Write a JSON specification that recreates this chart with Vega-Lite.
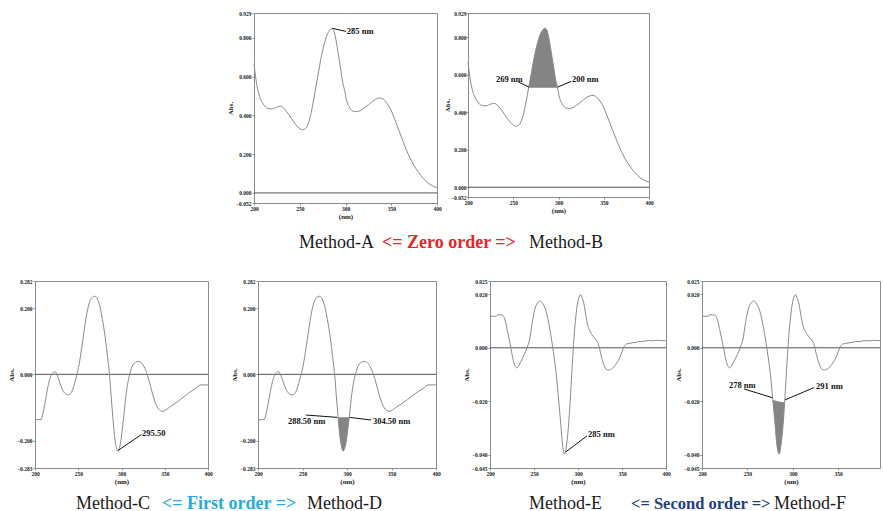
{
  "$schema": "https://vega.github.io/schema/vega-lite/v6.json",
  "padding": {"left": 6, "top": 10, "right": 0, "bottom": 0},
  "background": "white",
  "spacing": 0,
  "config": {
    "view": {"stroke": null},
    "font": "Liberation Serif",
    "axis": {"labelFont": "Liberation Serif", "labelFontWeight": "bold", "labelFontSize": 5.5, "labelColor": "#222", "titleFont": "Liberation Serif", "titleFontWeight": "bold", "titleFontSize": 7, "titleColor": "#222", "domain": false, "grid": false, "ticks": true, "tickSize": 2, "tickColor": "#777", "tickWidth": 0.8, "labelPadding": 1, "labelOverlap": false, "labelFlush": false, "tickCount": 20},
    "axisX": {"titlePadding": 1},
    "axisY": {"titlePadding": 2}
  },
  "datasets": {
    "zero": [
      {"nm": 200, "v": 0.667}, {"nm": 203, "v": 0.56}, {"nm": 206, "v": 0.5}, {"nm": 210, "v": 0.46}, {"nm": 215, "v": 0.437}, {"nm": 220, "v": 0.434}, {"nm": 225, "v": 0.443}, {"nm": 229, "v": 0.448}, {"nm": 233, "v": 0.435}, {"nm": 238, "v": 0.405}, {"nm": 243, "v": 0.37}, {"nm": 248, "v": 0.34}, {"nm": 253, "v": 0.326}, {"nm": 257, "v": 0.336}, {"nm": 261, "v": 0.385}, {"nm": 264, "v": 0.45}, {"nm": 267, "v": 0.53}, {"nm": 270, "v": 0.61}, {"nm": 273, "v": 0.69}, {"nm": 276, "v": 0.755}, {"nm": 279, "v": 0.805}, {"nm": 282, "v": 0.835}, {"nm": 285, "v": 0.848}, {"nm": 287, "v": 0.84}, {"nm": 289, "v": 0.805}, {"nm": 291, "v": 0.75}, {"nm": 293, "v": 0.69}, {"nm": 295, "v": 0.63}, {"nm": 297, "v": 0.57}, {"nm": 299, "v": 0.53}, {"nm": 301, "v": 0.48}, {"nm": 304, "v": 0.445}, {"nm": 308, "v": 0.422}, {"nm": 312, "v": 0.42}, {"nm": 316, "v": 0.425}, {"nm": 320, "v": 0.437}, {"nm": 325, "v": 0.455}, {"nm": 330, "v": 0.475}, {"nm": 335, "v": 0.488}, {"nm": 338, "v": 0.49}, {"nm": 341, "v": 0.485}, {"nm": 345, "v": 0.465}, {"nm": 349, "v": 0.435}, {"nm": 353, "v": 0.39}, {"nm": 357, "v": 0.34}, {"nm": 361, "v": 0.29}, {"nm": 365, "v": 0.24}, {"nm": 370, "v": 0.185}, {"nm": 375, "v": 0.14}, {"nm": 380, "v": 0.105}, {"nm": 385, "v": 0.075}, {"nm": 390, "v": 0.052}, {"nm": 395, "v": 0.037}, {"nm": 400, "v": 0.027}
    ],
    "shadeB": [
      {"nm": 267, "v": 0.53, "base": 0.53}, {"nm": 270, "v": 0.61, "base": 0.53}, {"nm": 273, "v": 0.69, "base": 0.53}, {"nm": 276, "v": 0.755, "base": 0.53}, {"nm": 279, "v": 0.805, "base": 0.53}, {"nm": 282, "v": 0.835, "base": 0.53}, {"nm": 285, "v": 0.848, "base": 0.53}, {"nm": 287, "v": 0.84, "base": 0.53}, {"nm": 289, "v": 0.805, "base": 0.53}, {"nm": 291, "v": 0.75, "base": 0.53}, {"nm": 293, "v": 0.69, "base": 0.53}, {"nm": 295, "v": 0.63, "base": 0.53}, {"nm": 297, "v": 0.57, "base": 0.53}, {"nm": 299, "v": 0.53, "base": 0.53}
    ],
    "d1": [
      {"nm": 200, "v": -0.137}, {"nm": 207, "v": -0.137}, {"nm": 209, "v": -0.12}, {"nm": 211, "v": -0.095}, {"nm": 214, "v": -0.05}, {"nm": 217, "v": -0.015}, {"nm": 220, "v": 0.003}, {"nm": 223, "v": 0.008}, {"nm": 226, "v": -0.005}, {"nm": 229, "v": -0.028}, {"nm": 232, "v": -0.048}, {"nm": 236, "v": -0.06}, {"nm": 239, "v": -0.062}, {"nm": 242, "v": -0.055}, {"nm": 245, "v": -0.035}, {"nm": 248, "v": -0.005}, {"nm": 251, "v": 0.03}, {"nm": 254, "v": 0.08}, {"nm": 257, "v": 0.135}, {"nm": 260, "v": 0.185}, {"nm": 263, "v": 0.218}, {"nm": 266, "v": 0.232}, {"nm": 269, "v": 0.236}, {"nm": 272, "v": 0.228}, {"nm": 275, "v": 0.205}, {"nm": 278, "v": 0.165}, {"nm": 281, "v": 0.115}, {"nm": 284, "v": 0.05}, {"nm": 286, "v": 0.003}, {"nm": 288, "v": -0.065}, {"nm": 290, "v": -0.13}, {"nm": 292, "v": -0.188}, {"nm": 294, "v": -0.22}, {"nm": 295.5, "v": -0.232}, {"nm": 297, "v": -0.226}, {"nm": 299, "v": -0.205}, {"nm": 301, "v": -0.165}, {"nm": 302.5, "v": -0.13}, {"nm": 305, "v": -0.068}, {"nm": 307, "v": -0.03}, {"nm": 309, "v": -0.005}, {"nm": 312, "v": 0.022}, {"nm": 316, "v": 0.036}, {"nm": 320, "v": 0.039}, {"nm": 324, "v": 0.032}, {"nm": 328, "v": 0.012}, {"nm": 332, "v": -0.02}, {"nm": 336, "v": -0.06}, {"nm": 340, "v": -0.092}, {"nm": 344, "v": -0.108}, {"nm": 347, "v": -0.112}, {"nm": 351, "v": -0.108}, {"nm": 356, "v": -0.098}, {"nm": 362, "v": -0.088}, {"nm": 368, "v": -0.076}, {"nm": 374, "v": -0.064}, {"nm": 380, "v": -0.052}, {"nm": 386, "v": -0.042}, {"nm": 391, "v": -0.032}, {"nm": 400, "v": -0.032}
    ],
    "shadeD": [
      {"nm": 290, "v": -0.13, "base": -0.13}, {"nm": 292, "v": -0.188, "base": -0.13}, {"nm": 294, "v": -0.22, "base": -0.13}, {"nm": 295.5, "v": -0.232, "base": -0.13}, {"nm": 297, "v": -0.226, "base": -0.13}, {"nm": 299, "v": -0.205, "base": -0.13}, {"nm": 301, "v": -0.165, "base": -0.13}, {"nm": 302.5, "v": -0.13, "base": -0.13}
    ],
    "d2": [
      {"nm": 200, "v": 0.0118}, {"nm": 207, "v": 0.0118}, {"nm": 209, "v": 0.0124}, {"nm": 214, "v": 0.0122}, {"nm": 217, "v": 0.0105}, {"nm": 220, "v": 0.006}, {"nm": 223, "v": 0.0012}, {"nm": 226, "v": -0.004}, {"nm": 228.5, "v": -0.0068}, {"nm": 230.5, "v": -0.0075}, {"nm": 233, "v": -0.0065}, {"nm": 236, "v": -0.0045}, {"nm": 239, "v": -0.0025}, {"nm": 242, "v": 0.0}, {"nm": 245, "v": 0.003}, {"nm": 248, "v": 0.0095}, {"nm": 251, "v": 0.0145}, {"nm": 254, "v": 0.0168}, {"nm": 257, "v": 0.0175}, {"nm": 260, "v": 0.0165}, {"nm": 263, "v": 0.0145}, {"nm": 266, "v": 0.0105}, {"nm": 269, "v": 0.005}, {"nm": 272, "v": -0.0015}, {"nm": 275, "v": -0.009}, {"nm": 278, "v": -0.0195}, {"nm": 280.5, "v": -0.029}, {"nm": 282.5, "v": -0.0365}, {"nm": 284, "v": -0.0392}, {"nm": 285, "v": -0.0398}, {"nm": 286.5, "v": -0.0375}, {"nm": 288.5, "v": -0.032}, {"nm": 291, "v": -0.0205}, {"nm": 293, "v": -0.009}, {"nm": 295.5, "v": 0.0042}, {"nm": 298, "v": 0.013}, {"nm": 300.5, "v": 0.0182}, {"nm": 303, "v": 0.0198}, {"nm": 305, "v": 0.0185}, {"nm": 307, "v": 0.016}, {"nm": 309, "v": 0.012}, {"nm": 311, "v": 0.0085}, {"nm": 314, "v": 0.006}, {"nm": 318, "v": 0.004}, {"nm": 321, "v": 0.0028}, {"nm": 323.5, "v": 0.001}, {"nm": 326, "v": -0.0025}, {"nm": 329, "v": -0.006}, {"nm": 332, "v": -0.008}, {"nm": 335, "v": -0.0083}, {"nm": 339, "v": -0.0077}, {"nm": 343, "v": -0.0062}, {"nm": 347, "v": -0.004}, {"nm": 350, "v": -0.0015}, {"nm": 352.5, "v": 0.0005}, {"nm": 355, "v": 0.0014}, {"nm": 358, "v": 0.0016}, {"nm": 362, "v": 0.0019}, {"nm": 366, "v": 0.002}, {"nm": 369, "v": 0.0024}, {"nm": 373, "v": 0.0023}, {"nm": 377, "v": 0.0026}, {"nm": 381, "v": 0.0027}, {"nm": 385, "v": 0.0026}, {"nm": 389, "v": 0.0028}, {"nm": 394, "v": 0.0027}, {"nm": 400, "v": 0.0026}
    ],
    "shadeF": [
      {"nm": 278, "v": -0.0195, "base": -0.0195}, {"nm": 280.5, "v": -0.029, "base": -0.0197}, {"nm": 282.5, "v": -0.0365, "base": -0.0199}, {"nm": 284, "v": -0.0392, "base": -0.02}, {"nm": 285, "v": -0.0398, "base": -0.0201}, {"nm": 286.5, "v": -0.0375, "base": -0.0202}, {"nm": 288.5, "v": -0.032, "base": -0.0203}, {"nm": 291, "v": -0.0205, "base": -0.0205}
    ],
    "zeroline": [{"v": 0}],
    "blank": [{}],
    "ann": [
      {"panel": "A", "kind": "text", "ax": 301.5, "ay": 0.836, "label": "285 nm"},
      {"panel": "A", "kind": "arrow", "ax": 300.5, "ay": 0.834, "bx": 285.5, "by": 0.85},
      {"panel": "B", "kind": "text", "ax": 230.9, "ay": 0.575, "label": "269 nm"},
      {"panel": "B", "kind": "arrow", "ax": 255.5, "ay": 0.562, "bx": 267.3, "by": 0.534},
      {"panel": "B", "kind": "text", "ax": 314.9, "ay": 0.575, "label": "200 nm"},
      {"panel": "B", "kind": "arrow", "ax": 313.8, "ay": 0.564, "bx": 299.2, "by": 0.534},
      {"panel": "C", "kind": "text", "ax": 323.7, "ay": -0.177, "label": "295.50"},
      {"panel": "C", "kind": "arrow", "ax": 323, "ay": -0.182, "bx": 296, "by": -0.23},
      {"panel": "D", "kind": "text", "ax": 233.7, "ay": -0.14, "label": "288.50 nm"},
      {"panel": "D", "kind": "arrow", "ax": 253.9, "ay": -0.123, "bx": 289, "by": -0.13},
      {"panel": "D", "kind": "text", "ax": 329.2, "ay": -0.14, "label": "304.50 nm"},
      {"panel": "D", "kind": "arrow", "ax": 327, "ay": -0.138, "bx": 303, "by": -0.13},
      {"panel": "E", "kind": "text", "ax": 311.4, "ay": -0.0323, "label": "285 nm"},
      {"panel": "E", "kind": "arrow", "ax": 310.2, "ay": -0.033, "bx": 286, "by": -0.039},
      {"panel": "F", "kind": "text", "ax": 229.7, "ay": -0.0139, "label": "278 nm"},
      {"panel": "F", "kind": "arrow", "ax": 246.3, "ay": -0.0154, "bx": 277.5, "by": -0.0187},
      {"panel": "F", "kind": "text", "ax": 325.6, "ay": -0.0143, "label": "291 nm"},
      {"panel": "F", "kind": "arrow", "ax": 323.3, "ay": -0.0149, "bx": 291.5, "by": -0.0195}
    ],
    "cap1": [
      {"t": "Method-A", "pos": 264, "kind": "method", "order": "Zero"},
      {"t": "<= Zero order =>", "pos": 347, "kind": "order", "order": "Zero"},
      {"t": "Method-B", "pos": 494, "kind": "method", "order": "Zero"}
    ],
    "cap2": [
      {"t": "Method-C", "pos": 41, "kind": "method", "order": "First"},
      {"t": "<= First order =>", "pos": 127, "kind": "order", "order": "First"},
      {"t": "Method-D", "pos": 272, "kind": "method", "order": "First"},
      {"t": "Method-E", "pos": 494, "kind": "method", "order": "Second"},
      {"t": "<= Second order =>", "pos": 596, "kind": "order2", "order": "Second"},
      {"t": "Method-F", "pos": 739, "kind": "method", "order": "Second"}
    ]
  },
  "vconcat": [
    {
      "spacing": 0,
      "hconcat": [
        {"width": 190, "height": 1, "data": {"name": "blank"}, "mark": {"type": "rect", "opacity": 0}, "encoding": {}},
        {
          "width": 183, "height": 190,
          "view": {"stroke": "#8c8c8c", "strokeWidth": 1},
          "layer": [
            {"data": {"name": "zeroline"}, "mark": {"type": "rule", "color": "#555", "strokeWidth": 1},
             "encoding": {"y": {"field": "v", "type": "quantitative", "scale": {"domain": [-0.052, 0.929], "nice": false, "zero": false}}}},
            {"data": {"name": "zero"}, "mark": {"type": "line", "color": "#8a8a8a", "strokeWidth": 1, "interpolate": "monotone"},
             "encoding": {
               "x": {"field": "nm", "type": "quantitative", "scale": {"domain": [200, 400], "nice": false, "zero": false}, "axis": {"values": [200, 250, 300, 350, 400], "tickCount": 20, "title": "(nm)", "labelOverlap": false}},
               "y": {"field": "v", "type": "quantitative", "scale": {"domain": [-0.052, 0.929], "nice": false, "zero": false}, "axis": {"values": [-0.052, 0, 0.2, 0.4, 0.6, 0.8, 0.929], "tickCount": 20, "format": ".3f", "title": "Abs.", "labelOverlap": false}}}},
            {"data": {"name": "ann"}, "transform": [{"filter": "datum.panel == 'A' && datum.kind == 'arrow'"}], "mark": {"type": "rule", "color": "#111", "strokeWidth": 1},
             "encoding": {"x": {"field": "ax", "type": "quantitative", "scale": {"domain": [200, 400], "nice": false, "zero": false}}, "y": {"field": "ay", "type": "quantitative", "scale": {"domain": [-0.052, 0.929], "nice": false, "zero": false}}, "x2": {"field": "bx"}, "y2": {"field": "by"}}},
            {"data": {"name": "ann"}, "transform": [{"filter": "datum.panel == 'A' && datum.kind == 'text'"}], "mark": {"type": "text", "align": "left", "baseline": "middle", "font": "Liberation Serif", "fontWeight": "bold", "fontSize": 8.5, "color": "#111"},
             "encoding": {"x": {"field": "ax", "type": "quantitative", "scale": {"domain": [200, 400], "nice": false, "zero": false}}, "y": {"field": "ay", "type": "quantitative", "scale": {"domain": [-0.052, 0.929], "nice": false, "zero": false}}, "text": {"field": "label"}}}
          ]
        },
        {
          "width": 181, "height": 184,
          "view": {"stroke": "#8c8c8c", "strokeWidth": 1},
          "layer": [
            {"data": {"name": "zeroline"}, "mark": {"type": "rule", "color": "#555", "strokeWidth": 1},
             "encoding": {"y": {"field": "v", "type": "quantitative", "scale": {"domain": [-0.052, 0.929], "nice": false, "zero": false}}}},
            {"data": {"name": "shadeB"}, "mark": {"type": "area", "color": "#777", "opacity": 0.9, "interpolate": "monotone"},
             "encoding": {"x": {"field": "nm", "type": "quantitative", "scale": {"domain": [200, 400], "nice": false, "zero": false}}, "y": {"field": "v", "type": "quantitative", "scale": {"domain": [-0.052, 0.929], "nice": false, "zero": false}}, "y2": {"field": "base"}}},
            {"data": {"name": "zero"}, "mark": {"type": "line", "color": "#8a8a8a", "strokeWidth": 1, "interpolate": "monotone"},
             "encoding": {
               "x": {"field": "nm", "type": "quantitative", "scale": {"domain": [200, 400], "nice": false, "zero": false}, "axis": {"values": [200, 250, 300, 350, 400], "tickCount": 20, "title": "(nm)", "labelOverlap": false}},
               "y": {"field": "v", "type": "quantitative", "scale": {"domain": [-0.052, 0.929], "nice": false, "zero": false}, "axis": {"values": [-0.052, 0, 0.2, 0.4, 0.6, 0.8, 0.929], "tickCount": 20, "format": ".3f", "title": "Abs.", "labelOverlap": false, "titlePadding": 0, "labelPadding": 0}}}},
            {"data": {"name": "ann"}, "transform": [{"filter": "datum.panel == 'B' && datum.kind == 'arrow'"}], "mark": {"type": "rule", "color": "#111", "strokeWidth": 1},
             "encoding": {"x": {"field": "ax", "type": "quantitative", "scale": {"domain": [200, 400], "nice": false, "zero": false}}, "y": {"field": "ay", "type": "quantitative", "scale": {"domain": [-0.052, 0.929], "nice": false, "zero": false}}, "x2": {"field": "bx"}, "y2": {"field": "by"}}},
            {"data": {"name": "ann"}, "transform": [{"filter": "datum.panel == 'B' && datum.kind == 'text'"}], "mark": {"type": "text", "align": "left", "baseline": "middle", "font": "Liberation Serif", "fontWeight": "bold", "fontSize": 8.5, "color": "#111"},
             "encoding": {"x": {"field": "ax", "type": "quantitative", "scale": {"domain": [200, 400], "nice": false, "zero": false}}, "y": {"field": "ay", "type": "quantitative", "scale": {"domain": [-0.052, 0.929], "nice": false, "zero": false}}, "text": {"field": "label"}}}
          ]
        }
      ]
    },
    {
      "width": 840, "height": 58,
      "data": {"name": "cap1"},
      "layer": [
        {"data": {"name": "blank"}, "mark": {"type": "rect", "opacity": 0}, "encoding": {}},
        {"transform": [{"filter": "datum.kind == 'method'"}], "mark": {"type": "text", "align": "left", "baseline": "middle", "dy": -6, "font": "Liberation Serif", "fontSize": 18, "color": "#1a1a1a"},
         "encoding": {"x": {"field": "pos", "type": "quantitative", "scale": {"domain": [0, 840], "nice": false, "zero": false}, "axis": null}, "text": {"field": "t"}}},
        {"transform": [{"filter": "datum.kind == 'order'"}], "mark": {"type": "text", "align": "left", "baseline": "middle", "dy": -6, "font": "Liberation Serif", "fontSize": 18, "fontWeight": "bold"},
         "encoding": {"x": {"field": "pos", "type": "quantitative", "scale": {"domain": [0, 840], "nice": false, "zero": false}, "axis": null}, "text": {"field": "t"},
           "color": {"field": "order", "type": "nominal", "scale": {"domain": ["Zero", "First", "Second"], "range": ["#e5262b", "#29a9e0", "#233e80"]}, "legend": null}}}
      ]
    },
    {
      "spacing": 0,
      "hconcat": [
        {
          "width": 173, "height": 187,
          "view": {"stroke": "#8c8c8c", "strokeWidth": 1},
          "layer": [
            {"data": {"name": "zeroline"}, "mark": {"type": "rule", "color": "#555", "strokeWidth": 1},
             "encoding": {"y": {"field": "v", "type": "quantitative", "scale": {"domain": [-0.283, 0.282], "nice": false, "zero": false}}}},
            {"data": {"name": "d1"}, "mark": {"type": "line", "color": "#8a8a8a", "strokeWidth": 1, "interpolate": "monotone"},
             "encoding": {
               "x": {"field": "nm", "type": "quantitative", "scale": {"domain": [200, 400], "nice": false, "zero": false}, "axis": {"values": [200, 250, 300, 350, 400], "tickCount": 20, "title": "(nm)", "labelOverlap": false}},
               "y": {"field": "v", "type": "quantitative", "scale": {"domain": [-0.283, 0.282], "nice": false, "zero": false}, "axis": {"values": [-0.283, -0.2, 0, 0.2, 0.282], "tickCount": 20, "format": ".3f", "title": "Abs.", "labelOverlap": false}}}},
            {"data": {"name": "ann"}, "transform": [{"filter": "datum.panel == 'C' && datum.kind == 'arrow'"}], "mark": {"type": "rule", "color": "#111", "strokeWidth": 1},
             "encoding": {"x": {"field": "ax", "type": "quantitative", "scale": {"domain": [200, 400], "nice": false, "zero": false}}, "y": {"field": "ay", "type": "quantitative", "scale": {"domain": [-0.283, 0.282], "nice": false, "zero": false}}, "x2": {"field": "bx"}, "y2": {"field": "by"}}},
            {"data": {"name": "ann"}, "transform": [{"filter": "datum.panel == 'C' && datum.kind == 'text'"}], "mark": {"type": "text", "align": "left", "baseline": "middle", "font": "Liberation Serif", "fontWeight": "bold", "fontSize": 8.5, "color": "#111"},
             "encoding": {"x": {"field": "ax", "type": "quantitative", "scale": {"domain": [200, 400], "nice": false, "zero": false}}, "y": {"field": "ay", "type": "quantitative", "scale": {"domain": [-0.283, 0.282], "nice": false, "zero": false}}, "text": {"field": "label"}}}
          ]
        },
        {"width": 16, "height": 1, "data": {"name": "blank"}, "mark": {"type": "rect", "opacity": 0}, "encoding": {}},
        {
          "width": 178, "height": 187,
          "view": {"stroke": "#8c8c8c", "strokeWidth": 1},
          "layer": [
            {"data": {"name": "zeroline"}, "mark": {"type": "rule", "color": "#555", "strokeWidth": 1},
             "encoding": {"y": {"field": "v", "type": "quantitative", "scale": {"domain": [-0.283, 0.282], "nice": false, "zero": false}}}},
            {"data": {"name": "shadeD"}, "mark": {"type": "area", "color": "#777", "opacity": 0.9, "interpolate": "monotone"},
             "encoding": {"x": {"field": "nm", "type": "quantitative", "scale": {"domain": [200, 400], "nice": false, "zero": false}}, "y": {"field": "v", "type": "quantitative", "scale": {"domain": [-0.283, 0.282], "nice": false, "zero": false}}, "y2": {"field": "base"}}},
            {"data": {"name": "d1"}, "mark": {"type": "line", "color": "#8a8a8a", "strokeWidth": 1, "interpolate": "monotone"},
             "encoding": {
               "x": {"field": "nm", "type": "quantitative", "scale": {"domain": [200, 400], "nice": false, "zero": false}, "axis": {"values": [200, 250, 300, 350, 400], "tickCount": 20, "title": "(nm)", "labelOverlap": false}},
               "y": {"field": "v", "type": "quantitative", "scale": {"domain": [-0.283, 0.282], "nice": false, "zero": false}, "axis": {"values": [-0.283, -0.2, 0, 0.2, 0.282], "tickCount": 20, "format": ".3f", "title": "Abs.", "labelOverlap": false}}}},
            {"data": {"name": "ann"}, "transform": [{"filter": "datum.panel == 'D' && datum.kind == 'arrow'"}], "mark": {"type": "rule", "color": "#111", "strokeWidth": 1},
             "encoding": {"x": {"field": "ax", "type": "quantitative", "scale": {"domain": [200, 400], "nice": false, "zero": false}}, "y": {"field": "ay", "type": "quantitative", "scale": {"domain": [-0.283, 0.282], "nice": false, "zero": false}}, "x2": {"field": "bx"}, "y2": {"field": "by"}}},
            {"data": {"name": "ann"}, "transform": [{"filter": "datum.panel == 'D' && datum.kind == 'text'"}], "mark": {"type": "text", "align": "left", "baseline": "middle", "font": "Liberation Serif", "fontWeight": "bold", "fontSize": 8.5, "color": "#111"},
             "encoding": {"x": {"field": "ax", "type": "quantitative", "scale": {"domain": [200, 400], "nice": false, "zero": false}}, "y": {"field": "ay", "type": "quantitative", "scale": {"domain": [-0.283, 0.282], "nice": false, "zero": false}}, "text": {"field": "label"}}}
          ]
        },
        {"width": 20, "height": 1, "data": {"name": "blank"}, "mark": {"type": "rect", "opacity": 0}, "encoding": {}},
        {
          "width": 176, "height": 187,
          "view": {"stroke": "#8c8c8c", "strokeWidth": 1},
          "layer": [
            {"data": {"name": "zeroline"}, "mark": {"type": "rule", "color": "#555", "strokeWidth": 1},
             "encoding": {"y": {"field": "v", "type": "quantitative", "scale": {"domain": [-0.045, 0.025], "nice": false, "zero": false}}}},
            {"data": {"name": "d2"}, "mark": {"type": "line", "color": "#8a8a8a", "strokeWidth": 1, "interpolate": "monotone"},
             "encoding": {
               "x": {"field": "nm", "type": "quantitative", "scale": {"domain": [200, 400], "nice": false, "zero": false}, "axis": {"values": [200, 250, 300, 350, 400], "tickCount": 20, "title": "(nm)", "labelOverlap": false}},
               "y": {"field": "v", "type": "quantitative", "scale": {"domain": [-0.045, 0.025], "nice": false, "zero": false}, "axis": {"values": [-0.045, -0.04, -0.02, 0, 0.02, 0.025], "tickCount": 20, "format": ".3f", "title": "Abs.", "labelOverlap": false}}}},
            {"data": {"name": "ann"}, "transform": [{"filter": "datum.panel == 'E' && datum.kind == 'arrow'"}], "mark": {"type": "rule", "color": "#111", "strokeWidth": 1},
             "encoding": {"x": {"field": "ax", "type": "quantitative", "scale": {"domain": [200, 400], "nice": false, "zero": false}}, "y": {"field": "ay", "type": "quantitative", "scale": {"domain": [-0.045, 0.025], "nice": false, "zero": false}}, "x2": {"field": "bx"}, "y2": {"field": "by"}}},
            {"data": {"name": "ann"}, "transform": [{"filter": "datum.panel == 'E' && datum.kind == 'text'"}], "mark": {"type": "text", "align": "left", "baseline": "middle", "font": "Liberation Serif", "fontWeight": "bold", "fontSize": 8.5, "color": "#111"},
             "encoding": {"x": {"field": "ax", "type": "quantitative", "scale": {"domain": [200, 400], "nice": false, "zero": false}}, "y": {"field": "ay", "type": "quantitative", "scale": {"domain": [-0.045, 0.025], "nice": false, "zero": false}}, "text": {"field": "label"}}}
          ]
        },
        {"width": 2, "height": 1, "data": {"name": "blank"}, "mark": {"type": "rect", "opacity": 0}, "encoding": {}},
        {
          "width": 178, "height": 187,
          "view": {"stroke": "#8c8c8c", "strokeWidth": 1},
          "layer": [
            {"data": {"name": "zeroline"}, "mark": {"type": "rule", "color": "#555", "strokeWidth": 1},
             "encoding": {"y": {"field": "v", "type": "quantitative", "scale": {"domain": [-0.045, 0.025], "nice": false, "zero": false}}}},
            {"data": {"name": "shadeF"}, "mark": {"type": "area", "color": "#777", "opacity": 0.9, "interpolate": "monotone"},
             "encoding": {"x": {"field": "nm", "type": "quantitative", "scale": {"domain": [200, 396], "nice": false, "zero": false}}, "y": {"field": "v", "type": "quantitative", "scale": {"domain": [-0.045, 0.025], "nice": false, "zero": false}}, "y2": {"field": "base"}}},
            {"data": {"name": "d2"}, "mark": {"type": "line", "color": "#8a8a8a", "strokeWidth": 1, "interpolate": "monotone", "clip": true},
             "encoding": {
               "x": {"field": "nm", "type": "quantitative", "scale": {"domain": [200, 396], "nice": false, "zero": false}, "axis": {"values": [200, 250, 300, 350], "tickCount": 20, "title": "(nm)", "labelOverlap": false}},
               "y": {"field": "v", "type": "quantitative", "scale": {"domain": [-0.045, 0.025], "nice": false, "zero": false}, "axis": {"values": [-0.045, -0.04, -0.02, 0, 0.02, 0.025], "tickCount": 20, "format": ".3f", "title": "Abs.", "labelOverlap": false}}}},
            {"data": {"name": "ann"}, "transform": [{"filter": "datum.panel == 'F' && datum.kind == 'arrow'"}], "mark": {"type": "rule", "color": "#111", "strokeWidth": 1},
             "encoding": {"x": {"field": "ax", "type": "quantitative", "scale": {"domain": [200, 396], "nice": false, "zero": false}}, "y": {"field": "ay", "type": "quantitative", "scale": {"domain": [-0.045, 0.025], "nice": false, "zero": false}}, "x2": {"field": "bx"}, "y2": {"field": "by"}}},
            {"data": {"name": "ann"}, "transform": [{"filter": "datum.panel == 'F' && datum.kind == 'text'"}], "mark": {"type": "text", "align": "left", "baseline": "middle", "font": "Liberation Serif", "fontWeight": "bold", "fontSize": 8.5, "color": "#111"},
             "encoding": {"x": {"field": "ax", "type": "quantitative", "scale": {"domain": [200, 396], "nice": false, "zero": false}}, "y": {"field": "ay", "type": "quantitative", "scale": {"domain": [-0.045, 0.025], "nice": false, "zero": false}}, "text": {"field": "label"}}}
          ]
        }
      ]
    },
    {
      "width": 840, "height": 27,
      "data": {"name": "cap2"},
      "layer": [
        {"data": {"name": "blank"}, "mark": {"type": "rect", "opacity": 0}, "encoding": {}},
        {"transform": [{"filter": "datum.kind == 'method'"}], "mark": {"type": "text", "align": "left", "baseline": "middle", "dy": 5, "font": "Liberation Serif", "fontSize": 18, "color": "#1a1a1a"},
         "encoding": {"x": {"field": "pos", "type": "quantitative", "scale": {"domain": [0, 840], "nice": false, "zero": false}, "axis": null}, "text": {"field": "t"}}},
        {"transform": [{"filter": "datum.kind == 'order'"}], "mark": {"type": "text", "align": "left", "baseline": "middle", "dy": 5, "font": "Liberation Serif", "fontSize": 18, "fontWeight": "bold"},
         "encoding": {"x": {"field": "pos", "type": "quantitative", "scale": {"domain": [0, 840], "nice": false, "zero": false}, "axis": null}, "text": {"field": "t"},
           "color": {"field": "order", "type": "nominal", "scale": {"domain": ["Zero", "First", "Second"], "range": ["#e5262b", "#29a9e0", "#233e80"]}, "legend": null}}},
        {"transform": [{"filter": "datum.kind == 'order2'"}], "mark": {"type": "text", "align": "left", "baseline": "middle", "dy": 5, "font": "Liberation Serif", "fontSize": 16.5, "fontWeight": "bold"},
         "encoding": {"x": {"field": "pos", "type": "quantitative", "scale": {"domain": [0, 840], "nice": false, "zero": false}, "axis": null}, "text": {"field": "t"},
           "color": {"field": "order", "type": "nominal", "scale": {"domain": ["Zero", "First", "Second"], "range": ["#e5262b", "#29a9e0", "#233e80"]}, "legend": null}}}
      ]
    }
  ]
}
